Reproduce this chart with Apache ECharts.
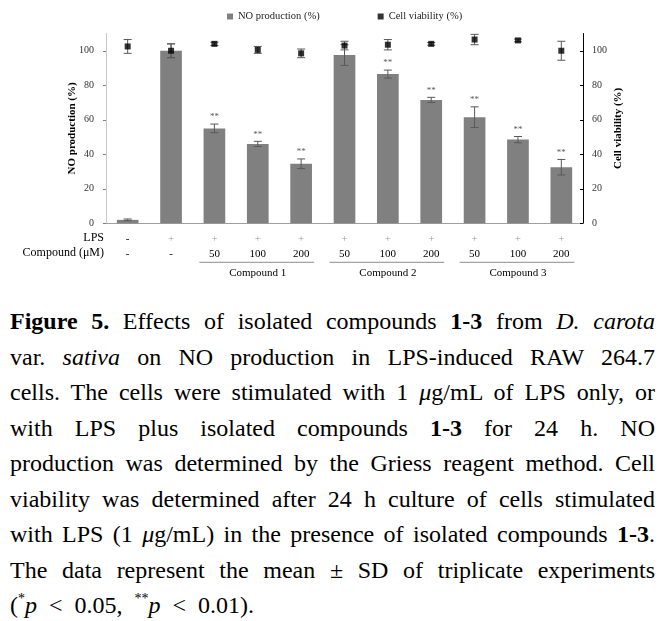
<!DOCTYPE html>
<html><head><meta charset="utf-8">
<script src="https://cdn.jsdelivr.net/npm/echarts@6/dist/echarts.min.js"></script>
<style>
html,body{margin:0;padding:0;background:#fff;}
#chart{position:absolute;left:0;top:0;width:665px;height:300px;}
#caption{position:absolute;left:10px;top:304px;width:645px;font-family:"Liberation Serif","Times New Roman",serif;font-size:24px;line-height:35.5px;color:#000;}
#caption div{white-space:nowrap;text-align:justify;text-align-last:justify;}
#caption div.last{text-align-last:left;word-spacing:6px;}
#caption sup{font-size:14px;line-height:0;vertical-align:10px;}
</style></head>
<body>
<div id="chart"></div>
<div id="caption">
<div><b>Figure 5.</b> Effects of isolated compounds <b>1-3</b> from <i>D. carota</i></div>
<div>var. <i>sativa</i> on NO production in LPS-induced RAW 264.7</div>
<div>cells. The cells were stimulated with 1 <i>μ</i>g/mL of LPS only, or</div>
<div>with LPS plus isolated compounds <b>1-3</b> for 24 h. NO</div>
<div>production was determined by the Griess reagent method. Cell</div>
<div>viability was determined after 24 h culture of cells stimulated</div>
<div>with LPS (1 <i>μ</i>g/mL) in the presence of isolated compounds <b>1-3</b>.</div>
<div>The data represent the mean ± SD of triplicate experiments</div>
<div class="last">(<sup>*</sup><i>p</i> &lt; 0.05, <sup>**</sup><i>p</i> &lt; 0.01).</div>
</div>
<script>
const categories = ['Control','LPS','C1-50','C1-100','C1-200','C2-50','C2-100','C2-200','C3-50','C3-100','C3-200'];
const lpsRow = ['-','+','+','+','+','+','+','+','+','+','+'];
const concRow = ['-','-','50','100','200','50','100','200','50','100','200'];
const noMean = [2, 100, 55, 46, 34.5, 97.5, 86.5, 71.5, 61.5, 48.5, 32.5];
const noSD = [0.5, 4, 2.5, 1.5, 2.8, 6, 2.3, 1.5, 6, 1.8, 4.5];
const cvMean = [102.5, 100, 104, 100.5, 98.5, 103, 103.5, 104, 106.5, 106, 100];
const cvSD = [4, 4, 1, 2, 2.5, 2.5, 3, 0.8, 3, 0.8, 5.5];
const sigMarks = ['', '', '**', '**', '**', '', '**', '**', '**', '**', '**'];
const groupNames = ['Compound 1', 'Compound 2', 'Compound 3'];
const groupStart = [2, 5, 8];
const groupEnd = [4, 7, 10];
const yTicks = [0, 20, 40, 60, 80, 100];
const rowHeaders = ['LPS', 'Compound (μM)'];

const FONT = '"Liberation Serif", "Times New Roman", serif';
const chart = echarts.init(document.getElementById('chart'));

function errRender(withSig) {
  return function (params, api) {
    const i = api.value(0), m = api.value(1), sd = api.value(2);
    const top = api.coord([i, m + sd]);
    const bot = api.coord([i, m - sd]);
    const cap = 4;
    const style = { stroke: '#595959', lineWidth: 1 };
    const children = [
      { type: 'line', shape: { x1: top[0], y1: top[1], x2: bot[0], y2: bot[1] }, style },
      { type: 'line', shape: { x1: top[0] - cap, y1: top[1], x2: top[0] + cap, y2: top[1] }, style },
      { type: 'line', shape: { x1: bot[0] - cap, y1: bot[1], x2: bot[0] + cap, y2: bot[1] }, style }
    ];
    if (withSig && sigMarks[i]) {
      children.push({ type: 'text', x: top[0], y: top[1] - 7,
        style: { text: sigMarks[i], fill: '#595959', font: '9px ' + FONT, align: 'center', verticalAlign: 'middle' } });
    }
    return { type: 'group', children };
  };
}

const gridTop = 33.5, gridBottom = 300 - 223.3, gridLeft = 106, gridRight = 665 - 583;
const axisY = 300 - gridBottom;

chart.setOption({
  animation: false,
  textStyle: { fontFamily: FONT },
  legend: {
    data: ['NO production (%)', 'Cell viability (%)'],
    left: 222, top: 6, icon: 'rect', itemWidth: 6, itemHeight: 6, itemGap: 58,
    textStyle: { fontFamily: FONT, fontSize: 10.5, color: '#222' }
  },
  grid: { left: gridLeft, right: gridRight, top: gridTop, bottom: gridBottom },
  xAxis: {
    type: 'category', data: categories,
    axisLine: { lineStyle: { color: '#a0a0a0', width: 1 } },
    axisTick: { show: false },
    axisLabel: {
      interval: 0, margin: 8,
      formatter: (v, i) => '{' + (lpsRow[i] === '+' ? 'p' : 'm') + '|' + lpsRow[i] + '}\n{c|' + concRow[i] + '}',
      rich: {
        p: { fontSize: 11, lineHeight: 15, color: '#999', fontFamily: FONT },
        m: { fontSize: 11, lineHeight: 15, color: '#000', fontFamily: FONT },
        c: { fontSize: 11, lineHeight: 15, color: '#000', fontFamily: FONT }
      }
    }
  },
  yAxis: [
    {
      type: 'value', min: 0, max: 110, interval: 20, position: 'left',
      name: 'NO production (%)', nameLocation: 'middle', nameGap: 28, nameMoveOverlap: false,
      nameTextStyle: { fontFamily: FONT, fontSize: 11, fontWeight: 'bold', color: '#000' },
      axisLine: { show: true, lineStyle: { color: '#c8c8c8' } },
      axisTick: { show: true, length: 3, lineStyle: { color: '#808080' }, customValues: yTicks },
      axisLabel: { customValues: yTicks, fontSize: 10, color: '#333', margin: 12, fontFamily: FONT },
      splitLine: { show: false }
    },
    {
      type: 'value', min: 0, max: 110, interval: 20, position: 'right',
      name: 'Cell viability (%)', nameLocation: 'middle', nameGap: 30, nameMoveOverlap: false,
      nameTextStyle: { fontFamily: FONT, fontSize: 11, fontWeight: 'bold', color: '#000' },
      axisLine: { show: true, lineStyle: { color: '#000' } },
      axisTick: { show: true, inside: true, length: 3, lineStyle: { color: '#000' }, customValues: yTicks },
      axisLabel: { customValues: yTicks, fontSize: 10, color: '#333', margin: 9, fontFamily: FONT },
      splitLine: { show: false }
    }
  ],
  series: [
    { name: 'NO production (%)', type: 'bar', yAxisIndex: 0, data: noMean, barWidth: '50%',
      itemStyle: { color: '#808080' }, z: 2 },
    { type: 'custom', yAxisIndex: 0, renderItem: errRender(true),
      data: noMean.map((m, i) => [i, m, noSD[i]]), z: 3, silent: true },
    { type: 'custom', yAxisIndex: 1, renderItem: errRender(false),
      data: cvMean.map((m, i) => [i, m, cvSD[i]]), z: 4, silent: true },
    { name: 'Cell viability (%)', type: 'scatter', yAxisIndex: 1, data: cvMean,
      symbol: 'rect', symbolSize: 6, itemStyle: { color: '#000' }, z: 5 }
  ]
});

// annotation rows and compound group brackets under the axis
const graphics = [];
rowHeaders.forEach((t, r) => {
  graphics.push({ type: 'text', x: gridLeft - 2, y: axisY + 15 + r * 15,
    style: { text: t, font: '12px ' + FONT, fill: '#000', align: 'right', verticalAlign: 'middle' } });
});
groupNames.forEach((g, k) => {
  const x1 = chart.convertToPixel({ xAxisIndex: 0 }, categories[groupStart[k]]);
  const x2 = chart.convertToPixel({ xAxisIndex: 0 }, categories[groupEnd[k]]);
  graphics.push({ type: 'line', shape: { x1: x1 - 15, y1: axisY + 39, x2: x2 + 13, y2: axisY + 39 },
    style: { stroke: '#8c8c8c', lineWidth: 1 } });
  graphics.push({ type: 'text', x: (x1 + x2) / 2, y: axisY + 50,
    style: { text: g, font: '11px ' + FONT, fill: '#000', align: 'center', verticalAlign: 'middle' } });
});
chart.setOption({ graphic: graphics });
</script>
</body></html>
